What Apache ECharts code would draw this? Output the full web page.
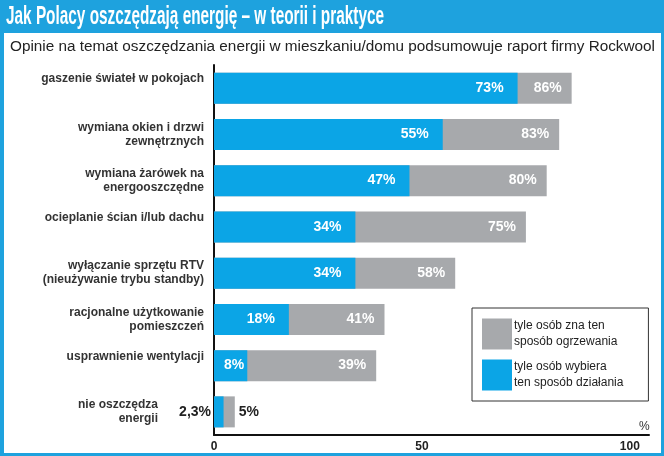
<!DOCTYPE html>
<html>
<head>
<meta charset="utf-8">
<script src="https://cdn.jsdelivr.net/npm/echarts@6/dist/echarts.min.js"></script>
<style>
html,body{margin:0;padding:0;background:#fff;}
#c{width:664px;height:456px;}
</style>
</head>
<body>
<div id="c"></div>
<script>
// ---- data ----
var titleText = 'Jak Polacy oszczędzają energię – w teorii i praktyce';
var subtitleText = 'Opinie na temat oszczędzania energii w mieszkaniu/domu podsumowuje raport firmy Rockwool';
var categories = [
  'gaszenie świateł w pokojach',
  'wymiana okien i drzwi\nzewnętrznych',
  'wymiana żarówek na\nenergooszczędne',
  'ocieplanie ścian i/lub dachu',
  'wyłączanie sprzętu RTV\n(nieużywanie trybu standby)',
  'racjonalne użytkowanie\npomieszczeń',
  'usprawnienie wentylacji',
  'nie oszczędza\nenergii'
];
var knowValues = [86, 83, 80, 75, 58, 41, 39, 5];
var chooseValues = [73, 55, 47, 34, 34, 18, 8, 2.3];
var seriesNames = ['tyle osób zna ten\nsposób ogrzewania', 'tyle osób wybiera\nten sposób działania'];
var xTicks = [0, 50, 100];
var unitLabel = '%';

// ---- helpers ----
var BLUE = '#0ba5e6';
var GRAY = '#a7a9ac';
var FRAME = '#1ea2de';
function fmt(v) { return String(v).replace('.', ',') + '%'; }
function measure(font, text) {
  var cv = document.createElement('canvas').getContext('2d');
  cv.font = font;
  return cv.measureText(text).width;
}
var titleFont = 'bold 26px "Liberation Sans"';
var titleScale = 378 / measure(titleFont, titleText);
var subFont = '14px "Liberation Sans"';
var subScale = 645 / measure(subFont, subtitleText);

var lastIdx = categories.length - 1;
function buildData(values, isBlue) {
  return values.map(function (v, i) {
    var item = { value: v };
    if (i === lastIdx) {
      item.label = {
        show: true,
        position: isBlue ? 'left' : 'right',
        distance: isBlue ? 3 : 4,
        color: '#222'
      };
    } else if (isBlue && v < 12) {
      item.label = { distance: 3 };
    }
    return item;
  });
}

var labelFont = { fontFamily: 'Liberation Sans', fontWeight: 'bold', fontSize: 12, lineHeight: 14, color: '#333' };

var chart = echarts.init(document.getElementById('c'), null, { renderer: 'canvas' });
chart.setOption({
  backgroundColor: FRAME,
  animation: false,
  graphic: [
    { type: 'rect', z: -10, shape: { x: 4, y: 33, width: 657, height: 420 }, style: { fill: '#ffffff' } },
    { type: 'text', x: 6, y: 4, scaleX: titleScale, scaleY: 1,
      style: { text: titleText, font: titleFont, fill: '#ffffff', verticalAlign: 'top' } },
    { type: 'text', x: 10, y: 40, scaleX: subScale, scaleY: 1,
      style: { text: subtitleText, font: subFont, fill: '#222222', verticalAlign: 'top' } },
    { type: 'text', x: 639, y: 421,
      style: { text: unitLabel, font: '12px "Liberation Sans"', fill: '#333333', verticalAlign: 'top' } }
  ],
  legend: {
    data: [seriesNames[0], seriesNames[1]],
    orient: 'vertical',
    left: 472,
    top: 308,
    itemWidth: 30,
    itemHeight: 31,
    itemGap: 9,
    padding: [10, 25, 10, 10],
    borderColor: '#333',
    borderWidth: 1,
    icon: 'rect',
    selectedMode: false,
    textStyle: { fontFamily: 'Liberation Sans', fontSize: 12, lineHeight: 16, color: '#222', padding: [0, 0, 0, -3] }
  },
  grid: { left: 214, top: 65, width: 435, height: 370, containLabel: false },
  xAxis: {
    type: 'value',
    min: 0,
    max: 104.6,
    interval: 50,
    axisLine: { show: true, lineStyle: { color: '#111', width: 2 } },
    axisTick: { show: false },
    splitLine: { show: false },
    axisLabel: {
      margin: 6,
      fontFamily: 'Liberation Sans',
      fontWeight: 'bold',
      fontSize: 12,
      color: '#222',
      formatter: function (v) { return xTicks.indexOf(v) >= 0 ? String(v) : ''; }
    }
  },
  yAxis: {
    type: 'category',
    data: categories,
    inverse: true,
    axisLine: { show: true, lineStyle: { color: '#111', width: 2 } },
    axisTick: { show: false },
    axisLabel: Object.assign({
      margin: 10,
      formatter: function (v, i) {
        if (i === lastIdx) return v.split('\n').map(function (s) { return '{n|' + s + '}'; }).join('\n');
        return v.indexOf('\n') < 0 ? '{s|' + v + '}' : v;
      },
      rich: {
        s: Object.assign({ padding: [0, 0, 18, 0] }, labelFont),
        n: Object.assign({ padding: [0, 46, 0, 0] }, labelFont)
      }
    }, labelFont)
  },
  series: [
    {
      name: seriesNames[0],
      type: 'bar',
      data: buildData(knowValues, false),
      barWidth: 31,
      barGap: '-100%',
      itemStyle: { color: GRAY },
      label: {
        show: true, position: 'insideRight', distance: 10,
        fontFamily: 'Liberation Sans', fontWeight: 'bold', fontSize: 14, color: '#fff',
        formatter: function (p) { return fmt(p.value); }
      }
    },
    {
      name: seriesNames[1],
      type: 'bar',
      data: buildData(chooseValues, true),
      barWidth: 31,
      barGap: '-100%',
      itemStyle: { color: BLUE },
      label: {
        show: true, position: 'insideRight', distance: 14,
        fontFamily: 'Liberation Sans', fontWeight: 'bold', fontSize: 14, color: '#fff',
        formatter: function (p) { return fmt(p.value); }
      }
    }
  ]
});
</script>
</body>
</html>
